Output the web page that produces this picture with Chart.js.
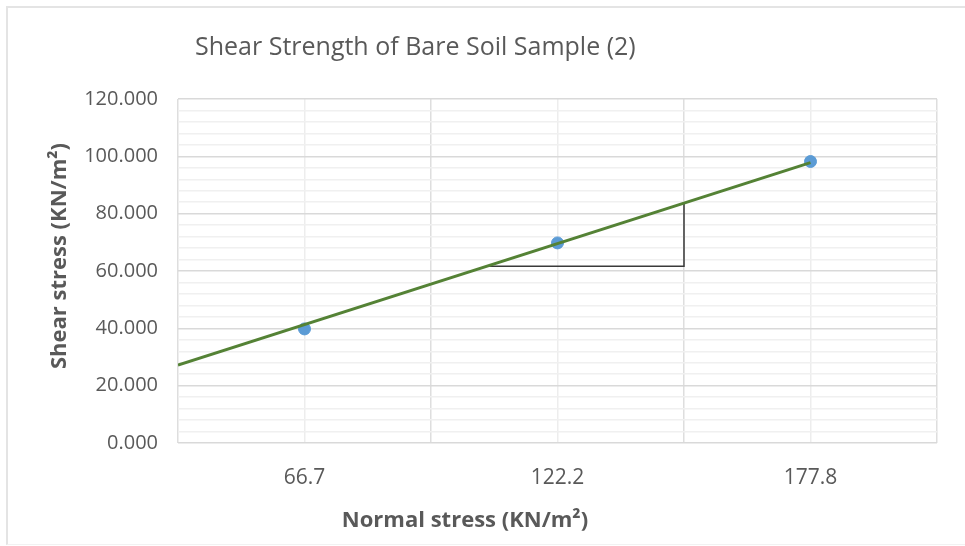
<!DOCTYPE html>
<html>
<head>
<meta charset="utf-8">
<script src="https://cdn.jsdelivr.net/npm/chart.js@4"></script>
<style>
  body { margin: 0; background: #fff; }
  #frame {
    position: absolute; left: 6px; top: 6px; width: 1000px; height: 536px;
    border-left: 2px solid #e4e4e4; border-top: 2px solid #e4e4e4; border-bottom: 1px solid #f2f2f2;
  }
  #chart { position: absolute; left: 0; top: 0; }
</style>
</head>
<body>
<div id="frame"></div>
<canvas id="chart" width="965" height="546"></canvas>
<script>
// ============================================================
// Shear strength chart - data
// ============================================================

const normalStress = ['66.7', '122.2', '177.8'];
const shearStress = [39.8, 69.8, 98.2];
const yTicks = [0, 20, 40, 60, 80, 100, 120];

// trendline (start, end) in category units
const trendX = [-0.5, 2];
const trendY = [27.2, 97.8];

// slope triangle drawn on the plot
const triangleX = [0.73, 1.5, 1.5];
const triangleY = [61.7, 61.7, 83.7];

const FONT = '"Open Sans", "Liberation Sans", sans-serif';
const GREY = '#595959';

// Helper: pair two arrays into {x, y} points
function toPoints(xs, ys) {
    return xs.map((x, i) => ({ x: x, y: ys[i] }));
}

// Chart title and axis titles, placed like the spreadsheet ones
const titlePlugin = {
    id: 'sheetTitles',
    afterDraw(chart) {
        const ctx = chart.ctx;
        ctx.save();
        ctx.fillStyle = GREY;
        ctx.textBaseline = 'middle';

        ctx.font = '25px ' + FONT;
        ctx.textAlign = 'left';
        ctx.fillText('Shear Strength of Bare Soil Sample (2)', 195, 48);

        ctx.font = 'bold 22px ' + FONT;
        ctx.textAlign = 'center';
        ctx.fillText('Normal stress (KN/m²)', 465, 521);

        ctx.translate(60, 256);
        ctx.rotate(-Math.PI / 2);
        ctx.fillText('Shear stress (KN/m²)', 0, 0);
        ctx.restore();
    }
};

const ctx = document.getElementById('chart').getContext('2d');

new Chart(ctx, {
    type: 'scatter',
    data: {
        datasets: [
            {
                label: 'Trendline',
                data: toPoints(trendX, trendY),
                showLine: true,
                borderColor: '#548235',
                borderWidth: 3,
                pointRadius: 0
            },
            {
                label: 'Slope',
                data: toPoints(triangleX, triangleY),
                showLine: true,
                borderColor: '#3a3a3a',
                borderWidth: 1.5,
                pointRadius: 0
            },
            {
                label: 'Shear stress',
                data: toPoints([0, 1, 2], shearStress),
                backgroundColor: '#5b9bd5',
                borderColor: '#5b9bd5',
                pointRadius: 6,
                pointHoverRadius: 6
            }
        ]
    },
    options: {
        responsive: false,
        animation: false,
        layout: { padding: { top: 99, right: 28, left: 0, bottom: 0 } },
        plugins: {
            legend: { display: false },
            tooltip: { enabled: false }
        },
        scales: {
            x: {
                type: 'linear',
                min: -0.5,
                max: 2.5,
                afterFit: (s) => { s.height = 103; },
                afterBuildTicks: (s) => {
                    s.ticks = [-0.5, 0, 0.5, 1, 1.5, 2, 2.5].map(v => ({ value: v }));
                },
                grid: {
                    drawTicks: false,
                    color: (c) => Number.isInteger(c.tick.value) ? '#ededed' : '#dedede',
                    lineWidth: 1.5
                },
                border: { display: false },
                ticks: {
                    autoSkip: false,
                    maxRotation: 0,
                    padding: 22,
                    color: GREY,
                    font: { family: FONT, size: 21 },
                    callback: (v) => Number.isInteger(v) ? normalStress[v] : ''
                }
            },
            y: {
                min: 0,
                max: 120,
                afterFit: (s) => { s.width = 178; },
                grid: {
                    drawTicks: false,
                    color: (c) => c.tick.value % 20 === 0 ? '#d9d9d9' : '#f0f0f0',
                    lineWidth: 1.5
                },
                border: { display: false },
                ticks: {
                    stepSize: 4,
                    autoSkip: false,
                    padding: 20,
                    color: GREY,
                    font: { family: FONT, size: 20 },
                    callback: (v) => yTicks.includes(v) ? v.toFixed(3) : ''
                }
            }
        }
    },
    plugins: [titlePlugin]
});
</script>
</body>
</html>
